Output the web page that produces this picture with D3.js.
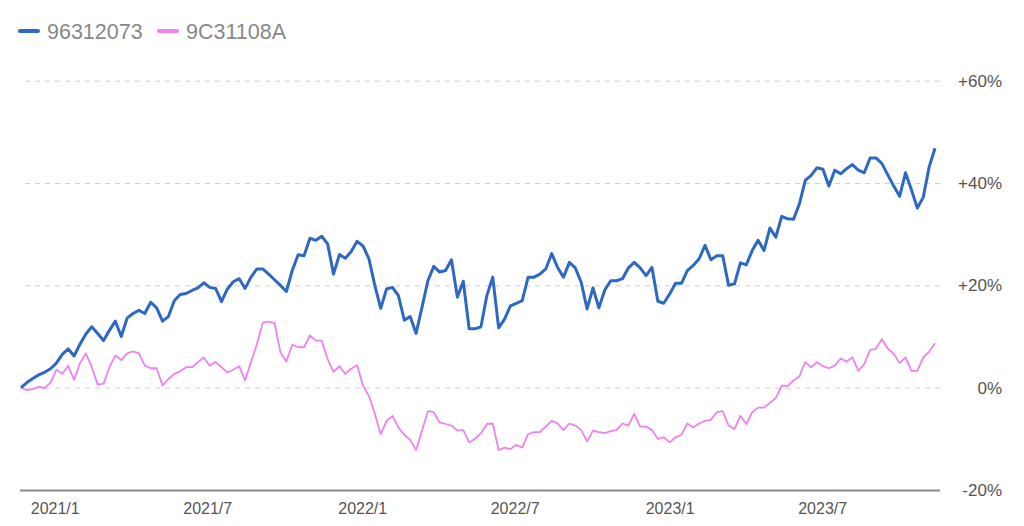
<!DOCTYPE html>
<html>
<head>
<meta charset="utf-8">
<script src="https://cdn.jsdelivr.net/npm/d3@7"></script>
<style>
  html, body { margin: 0; padding: 0; background: #fff; }
  svg { display: block; font-family: "Liberation Sans", Arial, Helvetica, sans-serif; }
</style>
</head>
<body>
<svg id="chart" width="1024" height="526"></svg>
<script>
// ---- data ----
const seriesNames = ["96312073", "9C31108A"];
const seriesColors = ["#2d68c2", "#ee82ee"];
const startDate = "2020-12-21"; // weekly observations
const fund1 = [
  0, 1.0, 1.8, 2.5, 3.0, 3.7, 4.8, 6.5, 7.6, 6.2, 8.5, 10.5, 11.9, 10.6, 9.2, 11.2,
  13.0, 10.0, 13.6, 14.5, 15.1, 14.5, 16.7, 15.6, 13.0, 13.9, 17.0, 18.2, 18.4, 19.0, 19.5, 20.5,
  19.6, 19.4, 16.8, 19.3, 20.7, 21.3, 19.4, 21.6, 23.2, 23.2, 22.2, 21.1, 20.0, 18.8, 22.9,
  26.0, 25.8, 29.2, 28.8, 29.6, 28.1, 22.2, 26.0, 25.3, 26.6, 28.6, 27.7, 25.2, 20.0, 15.5,
  19.3, 19.6, 18.0, 13.2, 13.9, 10.6, 15.7, 20.9, 23.7, 22.6, 22.9, 25.0, 17.7, 20.8, 11.5,
  11.5, 11.9, 18.0, 21.6, 11.7, 13.4, 16.0, 16.5, 17.0, 21.6, 21.6, 22.2, 23.2, 26.2, 23.5, 21.6,
  24.5, 23.4, 20.6, 15.4, 19.5, 15.6, 19.1, 20.9, 20.9, 21.3, 23.4, 24.5, 23.4, 21.9, 23.5,
  16.9, 16.5, 18.3, 20.4, 20.4, 22.9, 23.9, 25.2, 27.8, 25.0, 25.8, 25.8, 20.0, 20.3,
  24.4, 24.0, 26.8, 28.8, 26.8, 31.2, 29.4, 33.5, 33.0, 32.9, 35.9, 40.5, 41.5, 43.0, 42.7,
  39.4, 42.5, 41.8, 42.8, 43.6, 42.5, 42.0, 44.9, 44.9, 43.8, 41.6, 39.4, 37.4, 42.0, 38.7,
  35.1, 37.2, 43.1, 46.8
];
const fund2 = [
  0, -0.5, -0.3, 0.2, -0.1, 1.0, 3.5, 2.7, 4.3, 1.5, 4.8, 6.7, 4.0, 0.6, 0.8, 4.0,
  6.3, 5.4, 6.7, 7.1, 6.7, 4.3, 3.8, 3.8, 0.4, 1.7, 2.7, 3.2, 4.0, 4.0, 5.0, 5.9,
  4.3, 5.0, 4.0, 3.0, 3.5, 4.2, 1.4, 5.0, 8.5, 12.7, 12.9, 12.6, 6.9, 5.1, 8.4,
  7.9, 7.9, 10.2, 9.2, 9.2, 5.6, 3.1, 4.2, 2.7, 3.7, 4.4, 0.4, -1.6, -5.1, -9.1,
  -6.5, -5.5, -7.8, -9.2, -10.2, -12.2, -8.4, -4.6, -4.8, -6.8, -7.1, -7.4, -8.4, -8.3, -10.7,
  -10.0, -8.9, -7.1, -7.0, -12.2, -11.7, -12.0, -11.2, -11.7, -9.1, -8.7, -8.7, -7.6, -6.5, -7.0, -8.3,
  -7.0, -7.4, -8.3, -10.5, -8.4, -8.7, -8.9, -8.5, -8.3, -7.0, -7.4, -5.1, -7.6, -7.6, -8.3,
  -10.0, -9.7, -10.7, -9.7, -9.2, -7.0, -7.8, -7.0, -6.5, -6.3, -4.8, -4.6, -7.4, -8.1,
  -5.5, -7.1, -4.8, -3.9, -3.9, -3.0, -2.0, 0.4, 0.3, 1.4, 2.2, 5.0, 4.0, 5.0, 4.2,
  3.8, 4.3, 5.7, 5.1, 5.9, 3.3, 4.6, 7.4, 7.6, 9.5, 7.6, 6.6, 4.8, 5.9, 3.3,
  3.3, 5.9, 7.0, 8.7
];
const xTickDates = ["2021-01-01", "2021-07-01", "2022-01-01", "2022-07-01", "2023-01-01", "2023-07-01"];
const xTickLabels = ["2021/1", "2021/7", "2022/1", "2022/7", "2023/1", "2023/7"];
const yTicks = [-20, 0, 20, 40, 60];
const yTickLabels = ["-20%", "0%", "+20%", "+40%", "+60%"];

// ---- chart ----
const svg = d3.select("#chart");
const parse = d3.utcParse("%Y-%m-%d");
const t0 = parse(startDate);
const dates = fund1.map((_, i) => d3.utcDay.offset(t0, i * 7));

const x = d3.scaleUtc().domain([dates[0], dates[dates.length - 1]]).range([21, 935]);
const y = d3.scaleLinear().domain([-20, 60]).range([490, 80.7]);

// y axis with gridlines
const yAxis = d3.axisRight(y)
  .tickValues(yTicks)
  .tickSize(-920)
  .tickFormat((d, i) => yTickLabels[i]);
const yg = svg.append("g").attr("transform", "translate(940,0)").call(yAxis);
yg.select(".domain").remove();
yg.selectAll(".tick line")
  .attr("stroke", d => d === -20 ? "#8a8a8a" : "#d0d0d0")
  .attr("stroke-width", d => d === -20 ? 2 : 1)
  .attr("stroke-dasharray", d => d === -20 ? null : "5,5");
yg.selectAll(".tick text")
  .attr("x", 62)
  .attr("text-anchor", "end")
  .attr("fill", "#555")
  .style("font-size", "17px");

// x axis
const xAxis = d3.axisBottom(x)
  .tickValues(xTickDates.map(parse))
  .tickSize(0)
  .tickFormat((d, i) => xTickLabels[i]);
const xg = svg.append("g").attr("transform", "translate(0,490)").call(xAxis);
xg.select(".domain").remove();
xg.selectAll(".tick text")
  .attr("text-anchor", "start")
  .attr("y", 13)
  .attr("fill", "#555")
  .style("font-size", "16px");

// lines
const line = d3.line().x((d, i) => x(dates[i])).y(d => y(d));
const all = [fund1, fund2];
const widths = [3, 1.8];
// draw pink first then blue on top
[1, 0].forEach(k => {
  svg.append("path")
    .datum(all[k])
    .attr("fill", "none")
    .attr("stroke", seriesColors[k])
    .attr("stroke-width", widths[k])
    .attr("stroke-linejoin", "round")
    .attr("d", line);
});

// legend
const legend = svg.append("g");
const legendX = [20, 159];
seriesNames.forEach((name, k) => {
  const g = legend.append("g").attr("transform", `translate(${legendX[k]},31)`);
  g.append("line").attr("x1", 0).attr("x2", 18).attr("y1", 0).attr("y2", 0)
    .attr("stroke", seriesColors[k]).attr("stroke-width", 4).attr("stroke-linecap", "round");
  g.append("text").attr("x", 27).attr("y", 8).attr("fill", "#888")
    .style("font-size", "21.5px").text(name);
});
</script>
</body>
</html>
